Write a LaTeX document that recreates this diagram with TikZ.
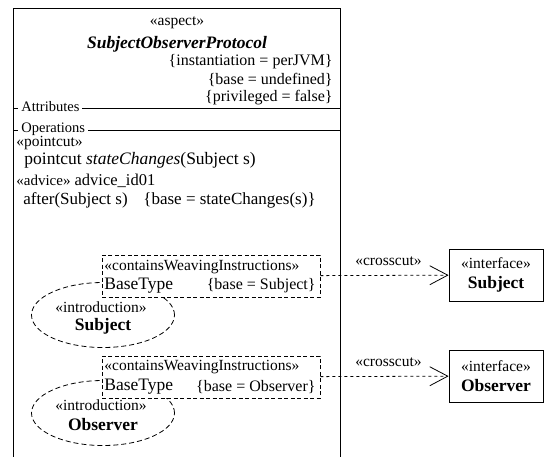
\documentclass[tikz,border=0pt]{standalone}
\usepackage{fontspec}
\setmainfont{Liberation Serif}
\usetikzlibrary{shapes.geometric,arrows.meta}

\begin{document}
\begin{tikzpicture}
  [x=1pt,y=-1pt,line width=0.8pt,
   every node/.style={inner sep=0pt,font=\fontsize{17.5}{20}\selectfont},
   stereo/.style={font=\fontsize{15.5}{18}\selectfont},
   cons/.style={font=\fontsize{16}{19}\selectfont},
   weave/.style={draw,dash pattern=on 4pt off 2.5pt,fill=white,minimum width=218pt,minimum height=42pt},
   intro/.style={ellipse,draw,dash pattern=on 5pt off 3pt,minimum width=143pt,minimum height=65pt,align=center},
   iface/.style={draw,fill=white,minimum width=94pt,minimum height=52pt,align=center},
   xcut/.style={dashed,-{Straight Barb[length=18pt,width=19pt]}}]
  \useasboundingbox (0,0) rectangle (546,456);
  \clip (0,0) rectangle (546,456);

  % aspect box
  \node[draw,anchor=north west,minimum width=327pt,minimum height=470pt] (aspect) at (13,8) {};
  \node[stereo] (st) at (177,23) {«aspect»};
  \node[font=\fontsize{17.5}{20}\selectfont\bfseries\itshape] (name) at (177,44) {SubjectObserverProtocol};
  \node[anchor=east,cons] (c1) at (333,62) {\{instantiation = perJVM\}};
  \node[anchor=east,cons] (c2) at (333,80) {\{base = undefined\}};
  \node[anchor=east,cons] (c3) at (333,98) {\{privileged = false\}};

  % compartments
  \coordinate (aL) at (13,108);
  \coordinate (aR) at (340,108);
  \coordinate (oL) at (13,130);
  \coordinate (oR) at (340,130);
  \draw (aL) -- (aR);
  \draw (oL) -- (oR);
  \node[anchor=west,fill=white,inner xsep=3pt,inner ysep=2pt,font=\fontsize{14.5}{17}\selectfont] (attr) at (18,107) {Attributes};
  \node[anchor=west,fill=white,inner xsep=3pt,inner ysep=2pt,font=\fontsize{14.5}{17}\selectfont] (ops) at (18,129) {Operations};

  % operations
  \node[anchor=west,stereo] (pcst) at (16,143) {«pointcut»};
  \node[anchor=west] (pc) at (24,160) {pointcut \textit{stateChanges}(Subject s)};
  \node[anchor=west,font=\fontsize{16.5}{19}\selectfont] (adv) at (16,181) {{\fontsize{15}{18}\selectfont«advice»} advice\_id01};
  \node[anchor=west,font=\fontsize{17}{19}\selectfont] (aft) at (23,200) {after(Subject s)};
  \node[anchor=west,font=\fontsize{17}{19}\selectfont] (aftc) at (143,200) {\{base = stateChanges(s)\}};

  % introductions
  \node[intro] (inS) at (103,315) {};
  \node[stereo] (inSst) at (101,307) {«introduction»};
  \node[font=\fontsize{17.5}{20}\selectfont\bfseries] (inSn) at (103,326) {Subject};
  \node[intro] (inO) at (103,413) {};
  \node[stereo] (inOst) at (101,405) {«introduction»};
  \node[font=\fontsize{17.5}{20}\selectfont\bfseries] (inOn) at (103,425) {Observer};

  % weaving instructions
  \node[weave] (wvS) at (211,276) {};
  \node[anchor=west,stereo] at (104,267) {«containsWeavingInstructions»};
  \node[anchor=west] at (104,286) {BaseType};
  \node[anchor=east,cons] at (316,286) {\{base = Subject\}};
  \node[weave] (wvO) at (211,377) {};
  \node[anchor=west,stereo] at (104,367) {«containsWeavingInstructions»};
  \node[anchor=west] at (104,387) {BaseType};
  \node[anchor=east,cons] at (316,387) {\{base = Observer\}};

  % interfaces
  \node[iface] (ifS) at (496,275) {{\fontsize{15.5}{18}\selectfont«interface»}\\\textbf{Subject}};
  \node[iface] (ifO) at (496,376) {{\fontsize{15.5}{18}\selectfont«interface»}\\\textbf{Observer}};

  \foreach \from/\to in {wvS/ifS, wvO/ifO}
    \draw[xcut] (\from) -- (\to) node[midway,above=9pt,stereo,xshift=4pt] {«crosscut»};
\end{tikzpicture}
\end{document}
